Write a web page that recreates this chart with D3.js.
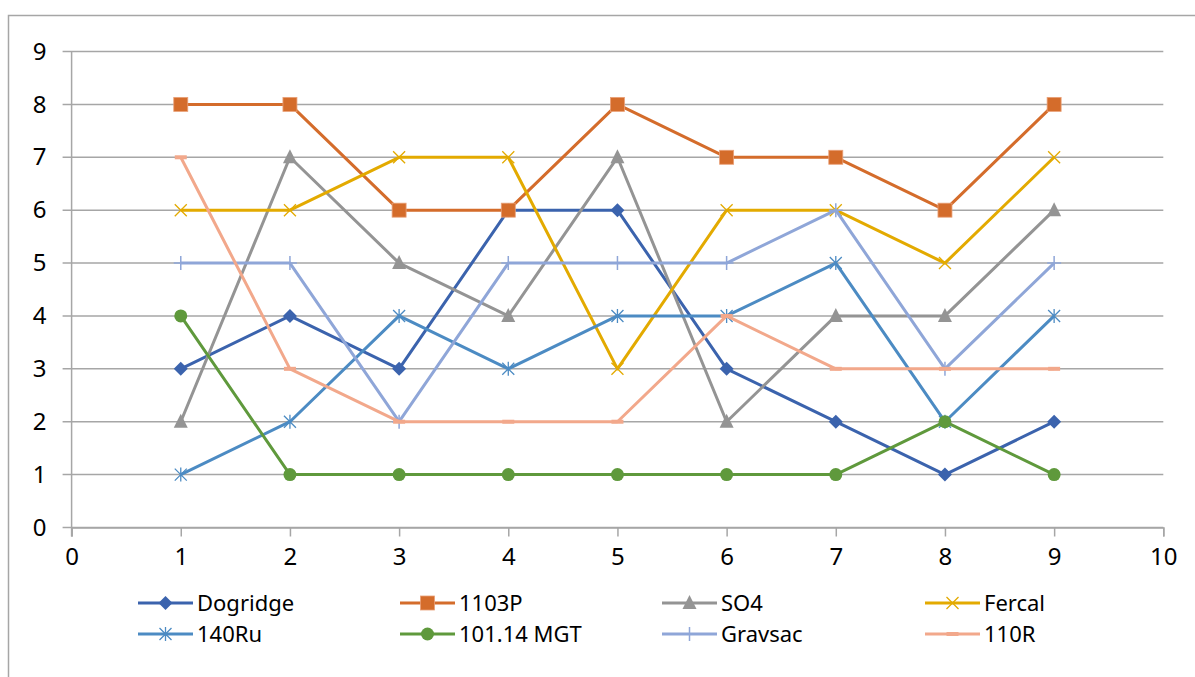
<!DOCTYPE html>
<html>
<head>
<meta charset="utf-8">
<script src="https://cdn.jsdelivr.net/npm/d3@7"></script>
<style>
  body { margin: 0; background: #fff; }
  text { font-family: "Noto Sans", "Open Sans", sans-serif; fill: #000; }
</style>
</head>
<body>
<div id="chart"></div>
<script>
// data
const xValues = [1, 2, 3, 4, 5, 6, 7, 8, 9];
const seriesNames = ["Dogridge", "1103P", "SO4", "Fercal", "140Ru", "101.14 MGT", "Gravsac", "110R"];
const dogridge = [3, 4, 3, 6, 6, 3, 2, 1, 2];
const p1103 = [8, 8, 6, 6, 8, 7, 7, 6, 8];
const so4 = [2, 7, 5, 4, 7, 2, 4, 4, 6];
const fercal = [6, 6, 7, 7, 3, 6, 6, 5, 7];
const ru140 = [1, 2, 4, 3, 4, 4, 5, 2, 4];
const mgt10114 = [4, 1, 1, 1, 1, 1, 1, 2, 1];
const gravsac = [5, 5, 2, 5, 5, 5, 6, 3, 5];
const r110 = [7, 3, 2, 2, 2, 4, 3, 3, 3];
const xTicks = [0, 1, 2, 3, 4, 5, 6, 7, 8, 9, 10];
const yTicks = [0, 1, 2, 3, 4, 5, 6, 7, 8, 9];

const colors = ["#3B63AD", "#D46C2B", "#949494", "#E3AA00", "#4C8BC3", "#5F993C", "#8FA6D8", "#F2A88B"];
const markers = ["diamond", "square", "triangle", "x", "asterisk", "circle", "plus", "dash"];
const allValues = [dogridge, p1103, so4, fercal, ru140, mgt10114, gravsac, r110];

const series = seriesNames.map((name, i) => ({
    name: name,
    color: colors[i],
    marker: markers[i],
    values: xValues.map((x, j) => ({x: x, y: allValues[i][j]}))
}));

const W = 1195, H = 677;
const margin = {top: 51.5, right: 32, bottom: 149, left: 71.6};
const width = 1163.3 - margin.left;
const height = 527.5 - margin.top;

const svg = d3.select("#chart").append("svg")
    .attr("width", W)
    .attr("height", H);

// outer chart border (only top and left fall inside the picture)
svg.append("path")
    .attr("d", "M8.5,677 L8.5,15.5 L1195,15.5")
    .attr("fill", "none")
    .attr("stroke", "#A6A6A6")
    .attr("stroke-width", 1.5);

const g = svg.append("g")
    .attr("transform", "translate(" + margin.left + "," + margin.top + ")");

const x = d3.scaleLinear().domain([0, 10]).range([0, width]);
const y = d3.scaleLinear().domain([0, 9]).range([height, 0]);

// gridlines
g.append("g")
    .selectAll("line")
    .data(yTicks)
    .join("line")
    .attr("x1", -9)
    .attr("x2", width)
    .attr("y1", d => y(d))
    .attr("y2", d => y(d))
    .attr("stroke", "#A6A6A6")
    .attr("stroke-width", 1.5);

// y axis
const yAxis = d3.axisLeft(y).tickValues(yTicks).tickSize(0).tickPadding(25);
const yAxisGroup = g.append("g").call(yAxis).attr("font-size", 24);
yAxisGroup.select(".domain").remove();
yAxisGroup.selectAll("text").attr("font-size", 24).style("font-size", "24px");

g.append("line")
    .attr("x1", 0).attr("x2", 0)
    .attr("y1", 0).attr("y2", height + 9)
    .attr("stroke", "#A6A6A6")
    .attr("stroke-width", 1.5);

// x axis
const xAxis = d3.axisBottom(x).tickValues(xTicks).tickSize(9).tickPadding(11);
const xAxisGroup = g.append("g")
    .attr("transform", "translate(0," + height + ")")
    .call(xAxis)
    .attr("font-size", 24);
xAxisGroup.select(".domain").attr("stroke", "#A6A6A6").attr("stroke-width", 1.5);
xAxisGroup.selectAll("line").attr("stroke", "#A6A6A6").attr("stroke-width", 1.5);
xAxisGroup.selectAll("text").attr("font-size", 24).style("font-size", "24px");

// marker drawing
function drawMarker(sel, type, color) {
    if (type === "diamond") {
        sel.append("path").attr("d", "M0,-7 L7,0 L0,7 L-7,0 Z").attr("fill", color);
    } else if (type === "square") {
        sel.append("rect").attr("x", -7).attr("y", -7).attr("width", 14).attr("height", 14)
            .attr("fill", color).attr("stroke", "#E9A078").attr("stroke-width", 0.8);
    } else if (type === "triangle") {
        sel.append("path").attr("d", "M0,-8 L7,6 L-7,6 Z").attr("fill", color);
    } else if (type === "circle") {
        sel.append("circle").attr("r", 6.5).attr("fill", color);
    } else if (type === "x") {
        sel.append("path").attr("d", "M-6,-6 L6,6 M-6,6 L6,-6")
            .attr("stroke", color).attr("stroke-width", 1.3).attr("fill", "none");
    } else if (type === "asterisk") {
        sel.append("path").attr("d", "M-6,-6 L6,6 M-6,6 L6,-6 M0,-7 L0,7")
            .attr("stroke", color).attr("stroke-width", 1.3).attr("fill", "none");
    } else if (type === "plus") {
        sel.append("path").attr("d", "M0,-7 L0,7 M-7,0 L7,0")
            .attr("stroke", color).attr("stroke-width", 1.5).attr("fill", "none");
    } else if (type === "dash") {
        sel.append("rect").attr("x", -6).attr("y", -2).attr("width", 12).attr("height", 4).attr("fill", color);
    }
}

const line = d3.line()
    .x(d => x(d.x))
    .y(d => y(d.y));

const seriesGroups = g.selectAll(".series")
    .data(series)
    .join("g")
    .attr("class", "series");

seriesGroups.append("path")
    .attr("d", d => line(d.values))
    .attr("fill", "none")
    .attr("stroke", d => d.color)
    .attr("stroke-width", 3)
    .attr("stroke-linejoin", "round");

seriesGroups.each(function(s) {
    d3.select(this).selectAll(".pt")
        .data(s.values)
        .join("g")
        .attr("class", "pt")
        .attr("transform", d => "translate(" + x(d.x) + "," + y(d.y) + ")")
        .each(function() { drawMarker(d3.select(this), s.marker, s.color); });
});

// legend
const legendX = [138, 400, 662, 925];
const legendY = [603, 634];
const legend = svg.selectAll(".legend")
    .data(series)
    .join("g")
    .attr("class", "legend")
    .attr("transform", (d, i) => "translate(" + legendX[i % 4] + "," + legendY[Math.floor(i / 4)] + ")");

legend.append("line")
    .attr("x1", 0).attr("x2", 55)
    .attr("stroke", d => d.color)
    .attr("stroke-width", 3);

legend.each(function(s) {
    const m = d3.select(this).append("g").attr("transform", "translate(27.5,0)");
    drawMarker(m, s.marker, s.color);
});

legend.append("text")
    .attr("x", 59)
    .attr("dy", "0.35em")
    .style("font-size", "22px")
    .text(d => d.name);
</script>
</body>
</html>
